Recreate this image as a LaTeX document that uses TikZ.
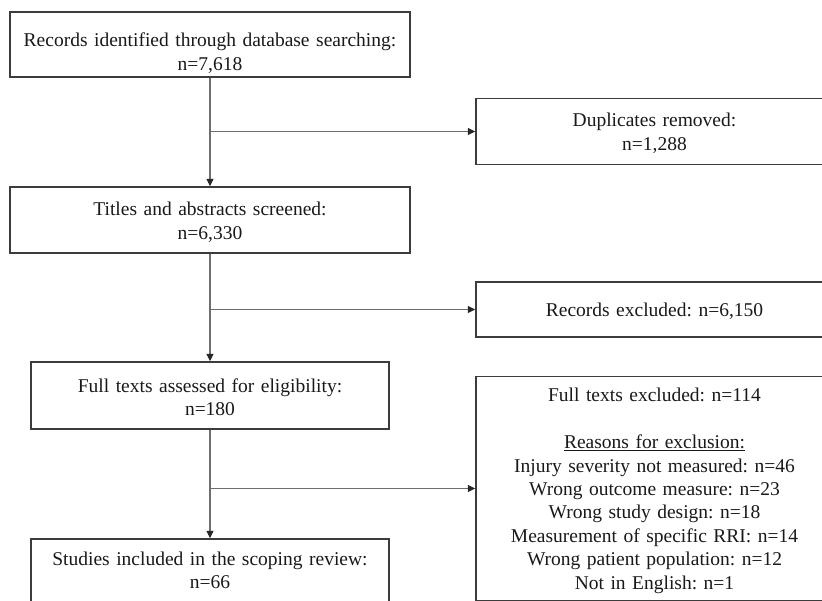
\documentclass[tikz,border=0pt]{standalone}
\usepackage{fontspec}
\setmainfont{Liberation Serif}
\usetikzlibrary{arrows.meta}
\frenchspacing
\begin{document}
\begin{tikzpicture}[x=1pt,y=-1pt,
  box/.style={draw=boxline,line width=1.4pt,inner sep=0pt,rectangle},
  txt/.style={inner sep=0pt,anchor=base,align=center,text width=420pt,
    text=black!90,font=\fontsize{19.5pt}{23.4pt}\selectfont},
  link/.style={draw=linkgray,line width=1.1pt},
  arr/.style={link,-{Triangle[length=7.5pt,width=7pt,color=black!85]}}]
\definecolor{boxline}{HTML}{3C3C3C}
\definecolor{linkgray}{HTML}{6E6E6E}
\useasboundingbox (0,0) rectangle (822,601);
\clip (0,0) rectangle (822,601);

% main column
\node[box,minimum width=400pt,minimum height=65pt] (b1) at (210,44.5) {};
\node[box,minimum width=400pt,minimum height=66pt] (b2) at (210,220) {};
\node[box,minimum width=358pt,minimum height=67pt] (b3) at (210,395.5) {};
\node[box,minimum width=358pt,minimum height=82pt] (b4) at (210,580) {};

% exclusion column
\node[box,minimum width=357pt,minimum height=66pt] (e1) at (654.5,131.5) {};
\node[box,minimum width=357pt,minimum height=55pt] (e2) at (654.5,309.5) {};
\node[box,minimum width=357pt,minimum height=224pt] (e3) at (654.5,488.5) {};

% texts
\node[txt] (t1) at (210,47) {Records identified through database searching:\\n=7,618};
\node[txt] (t2) at (210,216) {Titles and abstracts screened:\\n=6,330};
\node[txt] (t3) at (210,392) {Full texts assessed for eligibility:\\n=180};
\node[txt] (t4) at (210,565) {Studies included in the scoping review:\\n=66};
\node[txt] (u1) at (654.5,127) {Duplicates removed:\\n=1,288};
\node[txt] (u2) at (654.5,317) {Records excluded: n=6,150};
\node[txt] (u3) at (654.5,402) {Full texts excluded: n=114\\[23.4pt]
  \underline{Reasons for exclusion:}\\
  Injury severity not measured: n=46\\
  Wrong outcome measure: n=23\\
  Wrong study design: n=18\\
  Measurement of specific RRI: n=14\\
  Wrong patient population: n=12\\
  Not in English: n=1};

% connectors
\draw[arr] (b1.south) -- (b2.north);
\draw[arr] (b2.south) -- (b3.north);
\draw[arr] (b3.south) -- (b4.north);
\coordinate (j1) at (b1.south |- e1.west);
\coordinate (j2) at (b2.south |- e2.west);
\coordinate (j3) at (b3.south |- e3.west);
\draw[arr] (j1) -- (e1.west);
\draw[arr] (j2) -- (e2.west);
\draw[arr] (j3) -- (e3.west);
\end{tikzpicture}
\end{document}
